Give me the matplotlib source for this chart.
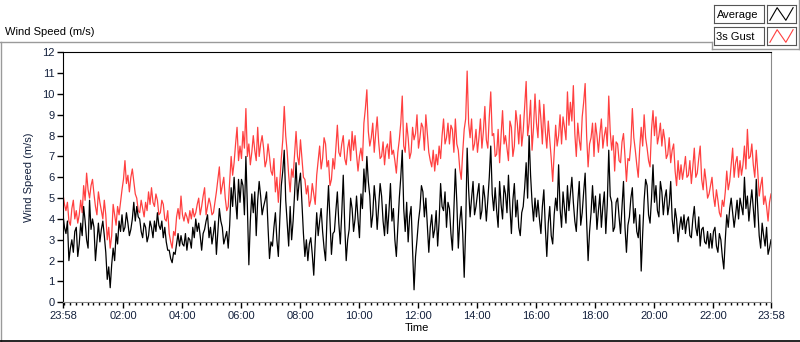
import numpy as np
import matplotlib
matplotlib.use('Agg')
import matplotlib.pyplot as plt
from matplotlib.lines import Line2D

# Wind speed readings, one every 3 minutes from 23:58 to 23:58 (m/s)
# one row per 2 hours
gust_speed = [
    5.2, 4.7, 4.4, 4.8, 3.9, 3.7, 4.5, 4.9, 4.0, 4.4, 3.8, 4.2, 4.9, 4.3, 5.6, 4.9, 6.2, 5.4, 5.0, 5.6,
    5.9, 5.2, 4.6, 4.2, 5.3, 4.8, 4.4, 4.0, 4.9, 4.2, 3.0, 3.6, 2.6, 3.2, 4.7, 4.2, 3.7, 4.6, 4.2, 4.8,
    5.4, 5.9, 6.8, 5.7, 6.1, 5.3, 6.0, 6.4, 5.8, 5.2, 5.0, 4.4, 4.3, 4.9, 4.5, 4.1, 4.8, 4.4, 5.3, 4.7,
    5.5, 4.8, 4.6, 5.2, 4.9, 4.2, 4.3, 4.9, 4.7, 4.0, 3.9, 4.4, 3.3, 2.9, 2.6, 3.4, 3.2, 4.1, 4.5, 4.0,
    5.1, 4.2, 3.9, 4.3, 4.1, 3.8, 4.4, 4.0, 4.5, 4.1, 4.3, 4.7, 5.0, 4.2, 4.6, 5.1, 5.5, 4.2, 4.6, 5.0,
    4.7, 4.2, 4.3, 4.8, 5.3, 5.9, 6.5, 5.2, 5.6, 6.0, 5.0, 4.4, 4.6, 5.8, 7.0, 6.1, 6.7, 7.6, 8.4, 6.8,
    7.5, 6.9, 8.2, 7.4, 9.3, 7.0, 7.6, 6.6, 7.2, 8.0, 7.3, 6.8, 8.4, 7.0, 7.6, 8.0, 7.4, 6.5, 6.8, 7.6,
    7.0, 6.3, 6.1, 6.9, 5.3, 6.0, 4.8, 5.8, 6.9, 7.8, 9.4, 8.0, 7.2, 6.1, 5.3, 6.4, 6.0, 7.1, 8.2, 7.0,
    6.6, 7.8, 6.9, 6.0, 5.9, 5.2, 5.6, 4.6, 4.9, 5.7, 5.2, 4.7, 6.1, 6.8, 7.5, 6.4, 6.9, 7.9, 7.6, 6.5,
    6.8, 5.6, 5.9, 6.9, 6.4, 7.4, 8.5, 7.2, 7.0, 7.6, 8.0, 6.9, 6.6, 7.4, 7.8, 6.8, 8.2, 7.3, 8.0, 7.1,
    6.3, 7.0, 7.4, 6.8, 8.6, 9.3, 10.2, 8.2, 7.5, 7.9, 8.6, 7.2, 8.1, 8.9, 7.7, 6.9, 7.0, 7.7, 6.6, 7.4,
    7.6, 6.9, 8.2, 7.1, 7.3, 6.8, 6.2, 7.2, 7.8, 8.6, 9.9, 7.5, 7.2, 8.6, 7.9, 6.9, 7.2, 8.4, 7.8, 8.1,
    9.0, 7.4, 7.9, 8.6, 8.4, 7.3, 9.0, 8.1, 7.2, 6.8, 6.5, 7.3, 6.3, 7.1, 6.6, 7.5, 6.9, 8.0, 8.8, 7.6,
    7.9, 8.6, 7.6, 8.5, 8.3, 7.2, 8.8, 7.6, 7.3, 6.4, 5.9, 7.2, 8.3, 8.8, 11.1, 8.6, 7.9, 8.8, 7.3, 7.6,
    8.3, 7.2, 7.9, 8.8, 7.4, 8.2, 9.4, 7.8, 7.4, 8.9, 10.1, 8.0, 8.1, 7.0, 7.1, 8.3, 6.7, 8.0, 9.2, 7.6,
    8.0, 7.4, 6.8, 8.7, 8.4, 7.0, 7.5, 9.2, 8.6, 7.6, 9.0, 7.5, 8.2, 9.4, 10.6, 8.0, 8.6, 9.7, 7.3, 8.4,
    10.0, 8.6, 7.9, 9.7, 8.8, 7.6, 9.5, 8.2, 7.4, 8.7, 7.8, 6.9, 5.8, 7.2, 8.5, 7.5, 8.0, 9.0, 7.6, 8.9,
    8.4, 7.8, 10.1, 8.5, 9.6, 8.7, 10.4, 8.1, 7.0, 8.6, 7.8, 7.3, 8.9, 9.6, 10.5, 8.0, 6.5, 7.6, 7.9, 8.6,
    7.0, 8.6, 8.0, 7.2, 8.1, 8.8, 7.4, 8.0, 8.4, 7.5, 9.9, 8.2, 7.3, 8.0, 6.3, 7.7, 7.6, 6.8, 6.7, 7.7,
    8.1, 7.0, 5.8, 6.9, 6.8, 7.6, 9.3, 7.9, 7.3, 6.6, 6.0, 7.4, 8.4, 7.5, 9.0, 7.9, 7.4, 6.8, 6.5, 8.3,
    9.2, 8.0, 8.9, 7.6, 8.0, 8.6, 7.5, 8.3, 7.8, 6.9, 7.1, 7.9, 6.7, 7.3, 7.6, 6.3, 5.6, 6.8, 5.9, 6.6,
    5.9, 6.4, 7.0, 6.0, 6.1, 6.8, 5.7, 6.5, 7.4, 6.0, 6.2, 6.9, 7.5, 5.9, 5.4, 6.4, 5.8, 5.0, 5.2, 5.6,
    6.0, 5.1, 4.6, 5.4, 4.9, 4.3, 4.1, 4.9, 4.6, 5.3, 6.3, 5.4, 5.8, 6.6, 7.4, 6.0, 6.7, 7.0, 6.0, 6.8,
    6.1, 6.6, 7.5, 6.4, 8.3, 6.9, 7.0, 7.6, 6.6, 6.0, 7.3, 6.3, 5.1, 5.6, 6.0, 4.7, 5.1, 4.6, 3.9, 4.8,
    5.2,
]
avg_speed = [
    4.2, 3.6, 3.3, 3.9, 2.0, 2.6, 3.0, 2.4, 3.4, 3.6, 2.2, 2.8, 3.8, 3.2, 4.6, 3.9, 3.0, 2.6, 4.9, 3.5,
    4.0, 3.6, 2.0, 2.9, 3.8, 2.9, 3.5, 3.9, 3.2, 2.4, 1.1, 1.7, 0.7, 1.8, 2.6, 2.0, 3.3, 2.8, 3.9, 3.4,
    4.2, 3.4, 3.6, 4.3, 3.8, 3.2, 3.5, 4.0, 4.8, 3.9, 4.6, 4.1, 4.0, 3.4, 3.1, 3.8, 3.6, 2.9, 3.2, 3.9,
    3.6, 3.1, 3.9, 3.4, 4.3, 3.7, 3.5, 3.9, 3.1, 3.6, 2.9, 2.5, 2.5, 2.1, 1.9, 2.4, 2.3, 2.8, 3.3, 2.7,
    3.2, 2.8, 2.7, 3.3, 2.5, 3.1, 3.0, 2.6, 3.6, 3.1, 4.0, 3.4, 3.8, 3.2, 2.5, 3.3, 3.5, 3.9, 4.2, 3.1,
    3.6, 2.8, 3.3, 3.9, 2.3, 3.4, 4.5, 3.9, 3.6, 2.8, 3.1, 3.4, 2.6, 3.7, 5.5, 4.6, 6.0, 4.9, 4.0, 5.9,
    4.8, 5.9, 5.6, 4.2, 7.0, 4.6, 1.8, 3.9, 5.2, 4.3, 5.3, 3.2, 4.9, 5.8, 5.1, 4.2, 4.6, 4.9, 5.3, 3.6,
    2.1, 2.9, 2.7, 3.6, 4.3, 3.0, 2.2, 4.0, 5.6, 6.3, 7.3, 4.9, 3.8, 2.7, 4.6, 3.0, 3.9, 5.2, 6.7, 4.9,
    5.7, 6.2, 4.7, 3.3, 2.2, 3.0, 2.0, 2.8, 3.1, 2.3, 1.3, 2.9, 4.3, 3.2, 3.9, 4.5, 3.4, 2.6, 2.0, 4.1,
    5.6, 3.9, 2.3, 3.3, 3.4, 4.4, 5.3, 3.8, 2.8, 4.3, 6.1, 3.7, 2.0, 3.0, 3.5, 5.0, 4.5, 3.4, 4.0, 5.1,
    4.0, 3.1, 5.2, 4.5, 6.4, 5.3, 7.0, 5.8, 5.1, 3.6, 4.2, 5.6, 4.8, 3.5, 4.6, 5.7, 5.1, 3.9, 3.2, 4.7,
    3.3, 4.4, 5.7, 3.9, 4.5, 3.0, 2.2, 3.6, 5.0, 6.0, 7.3, 4.5, 3.4, 4.8, 2.9, 4.1, 4.6, 2.5, 0.6, 2.2,
    3.0, 3.9, 4.5, 5.6, 5.3, 4.1, 5.0, 3.7, 2.4, 3.6, 4.2, 3.1, 3.5, 4.4, 2.7, 3.9, 5.7, 4.6, 4.4, 5.3,
    3.6, 4.8, 4.5, 3.3, 2.5, 4.5, 6.4, 4.8, 2.6, 3.9, 4.6, 3.3, 1.2, 3.6, 7.4, 5.4, 4.1, 5.0, 5.8, 4.2,
    4.6, 5.2, 5.7, 4.0, 4.4, 5.6, 5.0, 3.9, 4.9, 6.0, 7.5, 5.2, 4.4, 5.5, 4.4, 3.6, 5.8, 4.7, 4.0, 5.6,
    5.2, 4.3, 6.1, 4.6, 3.3, 4.9, 5.7, 4.1, 4.9, 3.6, 3.2, 4.3, 4.6, 5.5, 6.7, 5.0, 8.0, 6.1, 4.8, 3.9,
    5.0, 4.1, 4.9, 4.0, 3.3, 4.6, 5.4, 3.6, 2.2, 3.8, 4.6, 3.2, 2.8, 4.2, 5.0, 4.4, 6.6, 4.5, 3.6, 5.3,
    4.5, 3.8, 5.6, 4.4, 5.2, 6.0, 4.8, 3.9, 3.4, 4.8, 5.8, 3.7, 4.3, 5.3, 6.2, 3.9, 2.0, 3.4, 4.3, 5.6,
    4.3, 5.1, 3.5, 4.4, 5.2, 3.6, 4.6, 5.3, 3.3, 4.7, 7.3, 5.1, 4.8, 3.4, 3.6, 4.8, 5.0, 4.1, 3.3, 4.6,
    5.8, 3.6, 2.4, 3.7, 4.1, 5.0, 5.5, 3.8, 4.5, 3.4, 3.1, 4.2, 1.5, 3.3, 4.9, 5.9, 5.6, 4.2, 3.8, 5.0,
    6.6, 4.8, 5.6, 4.4, 4.1, 5.8, 5.3, 4.2, 5.0, 5.4, 4.2, 4.7, 5.8, 4.0, 3.3, 4.5, 4.0, 2.9, 3.6, 4.1,
    3.5, 4.2, 3.3, 3.9, 4.1, 3.2, 3.1, 4.0, 4.6, 3.6, 3.2, 4.1, 2.7, 3.5, 3.6, 2.9, 2.8, 3.4, 2.6, 3.3,
    2.6, 3.4, 3.6, 2.7, 2.4, 3.3, 3.0, 2.2, 1.6, 3.0, 4.2, 3.6, 4.5, 5.0, 4.3, 3.6, 4.2, 4.9, 4.0, 5.0,
    4.6, 4.2, 6.0, 4.5, 5.1, 3.9, 4.7, 5.4, 4.5, 3.6, 5.9, 4.5, 3.2, 2.6, 3.8, 3.2, 2.7, 3.6, 2.3, 2.6,
    3.0,
]
step_min = 3

# time axis in minutes after 23:58
tick_pos = [0, 122, 242, 362, 482, 602, 722, 842, 962, 1082, 1202, 1322, 1440]
tick_labels = ['23:58', '02:00', '04:00', '06:00', '08:00', '10:00', '12:00',
               '14:00', '16:00', '18:00', '20:00', '22:00', '23:58']

minutes = np.arange(len(avg_speed)) * step_min
text_col = '#14213d'
plt.rcParams['font.family'] = 'Liberation Sans'

fig = plt.figure(figsize=(8, 3.42), dpi=100)
ax = fig.add_axes([63 / 800, 39.7 / 342, 708 / 800, 250 / 342])

ax.plot(minutes, gust_speed, color='#ff4040', lw=0.9)
ax.plot(minutes, avg_speed, color='black', lw=0.9)

ax.set_xlim(0, 1440)
ax.set_ylim(0, 12)
ax.set_yticks(range(0, 13))
ax.set_xticks(tick_pos)
ax.set_xticklabels(tick_labels)
ax.set_xticks(np.arange(2, 1440, 12), minor=True)
ax.tick_params(axis='both', which='major', direction='out', length=4, width=1,
               labelsize=8, labelcolor=text_col, pad=2)
ax.tick_params(axis='x', which='minor', direction='out', length=2.5, width=1)
ax.set_ylabel('Wind Speed (m/s)', fontsize=8, color=text_col, labelpad=6)
ax.set_xlabel('Time', fontsize=8, color='black', labelpad=2)

for s in ['left', 'top']:
    ax.spines[s].set_color('black')
for s in ['right', 'bottom']:
    ax.spines[s].set_color('#8a8a8a')

# chart title at top-left
fig.text(5 / 800, 1 - 32 / 342, 'Wind Speed (m/s)', fontsize=8, color='black', va='center')

# panel frame
gray = '#9a9a9a'
fig.add_artist(Line2D([0, 712 / 800], [1 - 42 / 342] * 2, color=gray, lw=1))
fig.add_artist(Line2D([0.5 / 800] * 2, [1 - 42 / 342, 1 / 342], color=gray, lw=1))
fig.add_artist(Line2D([0, 1], [0.8 / 342] * 2, color='black', lw=1.2))
fig.add_artist(Line2D([712 / 800, 1], [1 - 49 / 342] * 2, color=gray, lw=1))
fig.add_artist(Line2D([712 / 800] * 2, [1 - 42 / 342, 1 - 49 / 342], color=gray, lw=1))
fig.add_artist(Line2D([799 / 800] * 2, [1, 1 - 49 / 342], color=gray, lw=1))

# legend boxes with line icons
legend_names = ['Average', '3s Gust']
legend_cols = ['black', '#ff4040']
for k, (name, col) in enumerate(zip(legend_names, legend_cols)):
    top = 5 + k * 22
    bx = fig.add_axes([714 / 800, 1 - (top + 18) / 342, 50 / 800, 18 / 342])
    bx.set_xticks([])
    bx.set_yticks([])
    bx.text(0.05, 0.45, name, fontsize=8, color='black', va='center', ha='left',
            transform=bx.transAxes)
    for s in bx.spines.values():
        s.set_color('#555555')
    ix = fig.add_axes([767 / 800, 1 - (top + 18) / 342, 29 / 800, 18 / 342])
    ix.set_xticks([])
    ix.set_yticks([])
    ix.plot([0.1, 0.35, 0.65, 0.9], [0.15, 0.85, 0.15, 0.85], color=col, lw=0.8)
    ix.set_xlim(0, 1)
    ix.set_ylim(0, 1)
    for s in ix.spines.values():
        s.set_color('#555555')

fig.savefig('out.png', dpi=100)
